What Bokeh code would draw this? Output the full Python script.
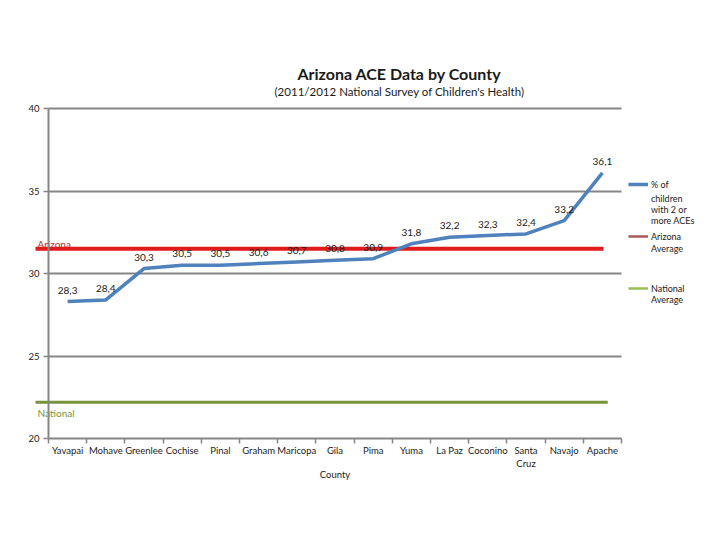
from bokeh.plotting import figure
from bokeh.models import ColumnDataSource, FixedTicker, Legend, LegendItem, Label, Range1d
from bokeh.core.properties import value
from bokeh.embed import file_html
from bokeh.resources import INLINE

# County data: share of children with 2 or more ACEs (%)
counties = ["Yavapai", "Mohave", "Greenlee", "Cochise", "Pinal", "Graham", "Maricopa",
            "Gila", "Pima", "Yuma", "La Paz", "Coconino", "Santa Cruz", "Navajo", "Apache"]
pct_aces = [28.3, 28.4, 30.3, 30.5, 30.5, 30.6, 30.7, 30.8, 30.9, 31.8, 32.2, 32.3, 32.4, 33.2, 36.1]
arizona_avg = 31.5
national_avg = 22.2
y_ticks = [20, 25, 30, 35, 40]

FONT = "Lato"
AXIS_GRAY = "#868686"
TEXT = "#1a1a1a"
NAN = float("nan")
W, H = 720, 540

pos = list(range(len(counties)))
labels = [f"{v:.1f}".replace(".", ",") for v in pct_aces]
src = ColumnDataSource(dict(x=pos, y=pct_aces, label=labels))

# The plot frame fills the whole canvas; axes are pinned inside it.
# One category slot is 38.2 px wide and starts 48 px from the left edge;
# the value axis runs from 40 (108 px from the top) to 20 (438 px from the top).
SLOT = 38.2
PX_PER_UNIT = (438 - 108) / (y_ticks[-1] - y_ticks[0])
x_start = -0.5 - 48 / SLOT
x_end = -0.5 + (W - 48) / SLOT
y_end = y_ticks[-1] + 108 / PX_PER_UNIT
y_start = y_ticks[0] - (H - 438) / PX_PER_UNIT

p = figure(width=W, height=H, output_backend="svg", toolbar_location=None,
           x_range=Range1d(x_start, x_end), y_range=Range1d(y_start, y_end),
           min_border=0)
p.outline_line_color = None
p.background_fill_color = "white"

# titles
p.add_layout(Label(x=399, y=H - 73, x_units="screen", y_units="screen",
                   text="Arizona ACE Data by County", text_font=FONT, text_font_size="16px",
                   text_font_style="bold", text_color=TEXT, text_align="center",
                   text_baseline="middle"))
p.add_layout(Label(x=399, y=H - 91, x_units="screen", y_units="screen",
                   text="(2011/2012 National Survey of Children's Health)", text_font=FONT,
                   text_font_size="11.5px", text_color=TEXT, text_align="center",
                   text_baseline="middle"))

# value axis at the left edge of the first category slot
yax = p.yaxis[0]
yax.fixed_location = -0.5
yax.bounds = (y_ticks[0], y_ticks[-1])
yax.ticker = FixedTicker(ticks=y_ticks)
yax.axis_line_color = AXIS_GRAY
yax.axis_line_width = 2
yax.major_tick_line_color = AXIS_GRAY
yax.major_tick_line_width = 1.5
yax.major_tick_out = 5
yax.major_tick_in = 0
yax.minor_tick_line_color = None
yax.major_label_text_font = FONT
yax.major_label_text_font_size = "9.5px"
yax.major_label_text_color = TEXT
yax.major_label_standoff = 4

# category axis at 20: labels under slots, ticks on slot boundaries
xax = p.xaxis[0]
xax.fixed_location = y_ticks[0]
xax.bounds = (-0.5, len(counties) - 0.5)
xax.ticker = FixedTicker(ticks=pos, minor_ticks=[i - 0.5 for i in range(len(counties) + 1)])
xax.major_label_overrides = {i: ("Santa\nCruz" if c == "Santa Cruz" else c)
                             for i, c in enumerate(counties)}
xax.axis_line_color = AXIS_GRAY
xax.axis_line_width = 2
xax.major_tick_line_color = None
xax.minor_tick_line_color = AXIS_GRAY
xax.minor_tick_line_width = 1.5
xax.minor_tick_out = 5
xax.minor_tick_in = 0
xax.major_label_text_font = FONT
xax.major_label_text_font_size = "9.5px"
xax.major_label_text_color = TEXT
xax.major_label_standoff = 0
xax.axis_label = "County"
xax.axis_label_text_font = FONT
xax.axis_label_text_font_size = "9.5px"
xax.axis_label_text_font_style = "normal"
xax.axis_label_text_color = TEXT
xax.axis_label_standoff = -3

p.xgrid.visible = False
p.ygrid.ticker = FixedTicker(ticks=y_ticks[1:])
p.ygrid.grid_line_color = AXIS_GRAY
p.ygrid.grid_line_width = 2
p.ygrid.cross_bounds = (-0.5, len(counties) - 0.5)

# reference lines with their inline names
ref_x0 = -0.5 - 13 / SLOT
p.text(x=[ref_x0 + 0.05], y=[arizona_avg], text=["Arizona"], text_font=value(FONT),
       text_font_size="10px", text_color="#B03030", text_baseline="bottom", y_offset=1)
p.line(x=[ref_x0, 14.03], y=[arizona_avg] * 2, line_color="#E01B1B", line_width=4)
p.line(x=[ref_x0, 14.14], y=[national_avg] * 2, line_color="#77933C", line_width=3)
p.text(x=[ref_x0 + 0.05], y=[national_avg], text=["National"], text_font=value(FONT),
       text_font_size="10px", text_color="#77933C", text_baseline="top", y_offset=5)

# county series
main = p.line("x", "y", source=src, line_color="#4F81BD", line_width=3.5)
p.text("x", "y", text="label", source=src, text_font=value(FONT), text_font_size="10px",
       text_color=TEXT, text_align="center", text_baseline="bottom", y_offset=-8)

# legend swatches for the two averages
az_key = p.line(x=[NAN], y=[NAN], line_color="#A85A5A", line_width=2.5)
nat_key = p.line(x=[NAN], y=[NAN], line_color="#9BBB59", line_width=2.5)
blank = p.line(x=[NAN], y=[NAN], line_alpha=0)

LEG_X = 628

def key(label, renderer, bottom_y, glyph=True):
    lg = Legend(items=[LegendItem(label=label, renderers=[renderer])],
                location=(LEG_X + (0 if glyph else 23), H - bottom_y),
                glyph_width=20 if glyph else 0, glyph_height=12,
                label_standoff=3 if glyph else 0, padding=0, margin=0,
                spacing=0, border_line_color=None, background_fill_alpha=0,
                label_text_font=FONT, label_text_font_size="9px", label_text_color=TEXT,
                label_height=12)
    p.add_layout(lg)

key("% of", main, 190)
key("children\nwith 2 or\nmore ACEs", blank, 226, glyph=False)
key("Arizona", az_key, 242)
key("Average", blank, 254, glyph=False)
key("National", nat_key, 294)
key("Average", blank, 305, glyph=False)

open("out.html", "w").write(file_html(p, INLINE))
